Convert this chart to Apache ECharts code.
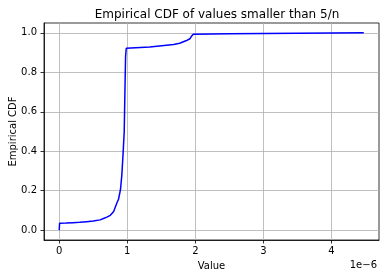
<!DOCTYPE html>
<html>
<head>
<meta charset="utf-8">
<script src="https://cdn.jsdelivr.net/npm/echarts@6/dist/echarts.min.js"></script>
<style>html,body{margin:0;padding:0;background:#fff;}#c{width:386px;height:278px;}</style>
</head>
<body>
<div id="c"></div>
<script>
// x values in units of 1e-6
const xValues = [0, 0.005, 0.1, 0.2, 0.3, 0.4, 0.5, 0.6, 0.65, 0.7, 0.75, 0.77, 0.8, 0.82, 0.85, 0.87, 0.9, 0.92, 0.94, 0.955, 0.965, 0.975, 0.985, 1.0, 1.33, 1.68, 1.77, 1.87, 1.92, 1.94, 1.97, 2.5, 3.0, 3.5, 4.0, 4.475];
const cdfValues = [0.0, 0.035, 0.036, 0.038, 0.040, 0.043, 0.046, 0.052, 0.059, 0.066, 0.075, 0.083, 0.095, 0.113, 0.14, 0.155, 0.206, 0.28, 0.4, 0.5, 0.7, 0.88, 0.922, 0.923, 0.928, 0.941, 0.947, 0.961, 0.970, 0.981, 0.993, 0.995, 0.997, 0.998, 0.999, 1.0];
const xTicks = [0, 1, 2, 3, 4];
const yTicks = [0.0, 0.2, 0.4, 0.6, 0.8, 1.0];

const font = 'DejaVu Sans';
const chart = echarts.init(document.getElementById('c'), null, {renderer: 'canvas'});
chart.setOption({
  animation: false,
  backgroundColor: '#fff',
  title: {
    text: 'Empirical CDF of values smaller than 5/n',
    left: 212, top: 4, textAlign: 'center',
    textStyle: {fontFamily: font, fontSize: 12, fontWeight: 'normal', color: '#000'}
  },
  grid: {left: 44, right: 7, top: 23, bottom: 38, show: true, borderColor: '#000', borderWidth: 0.8, backgroundColor: 'transparent', containLabel: false, outerBoundsMode: 'none'},
  xAxis: {
    type: 'value', min: -0.224, max: 4.699,
    name: 'Value', nameLocation: 'middle', nameGap: 21, nameMoveOverlap: false,
    nameTextStyle: {fontFamily: font, fontSize: 10, color: '#000'},
    axisLine: {show: true, onZero: false, lineStyle: {color: '#000', width: 0.8}},
    axisTick: {show: true, length: 3.5, customValues: xTicks, lineStyle: {color: '#000', width: 0.8}},
    axisLabel: {customValues: xTicks, fontFamily: font, fontSize: 10, color: '#000', margin: 6, formatter: v => String(Math.round(v))},
    splitLine: {show: true, lineStyle: {color: '#b0b0b0', width: 0.8}}
  },
  yAxis: {
    type: 'value', min: -0.05, max: 1.05,
    name: 'Empirical CDF', nameLocation: 'middle', nameGap: 26, nameRotate: 90, nameMoveOverlap: false,
    nameTextStyle: {fontFamily: font, fontSize: 10, color: '#000'},
    axisLine: {show: true, onZero: false, lineStyle: {color: '#000', width: 0.8}},
    axisTick: {show: true, length: 3.5, customValues: yTicks, lineStyle: {color: '#000', width: 0.8}},
    axisLabel: {customValues: yTicks, fontFamily: font, fontSize: 10, color: '#000', margin: 7, formatter: v => v.toFixed(1)},
    splitLine: {show: true, lineStyle: {color: '#b0b0b0', width: 0.8}}
  },
  graphic: [{
    type: 'text', right: 9, top: 260,
    style: {text: '1e\u22126', fontFamily: font, fontSize: 10, fill: '#000'}
  }],
  series: [{
    type: 'line',
    data: xValues.map((x, i) => [x, cdfValues[i]]),
    showSymbol: false, symbol: 'none',
    lineStyle: {color: '#0000ff', width: 1.5},
    clip: true
  }]
});
</script>
</body>
</html>
